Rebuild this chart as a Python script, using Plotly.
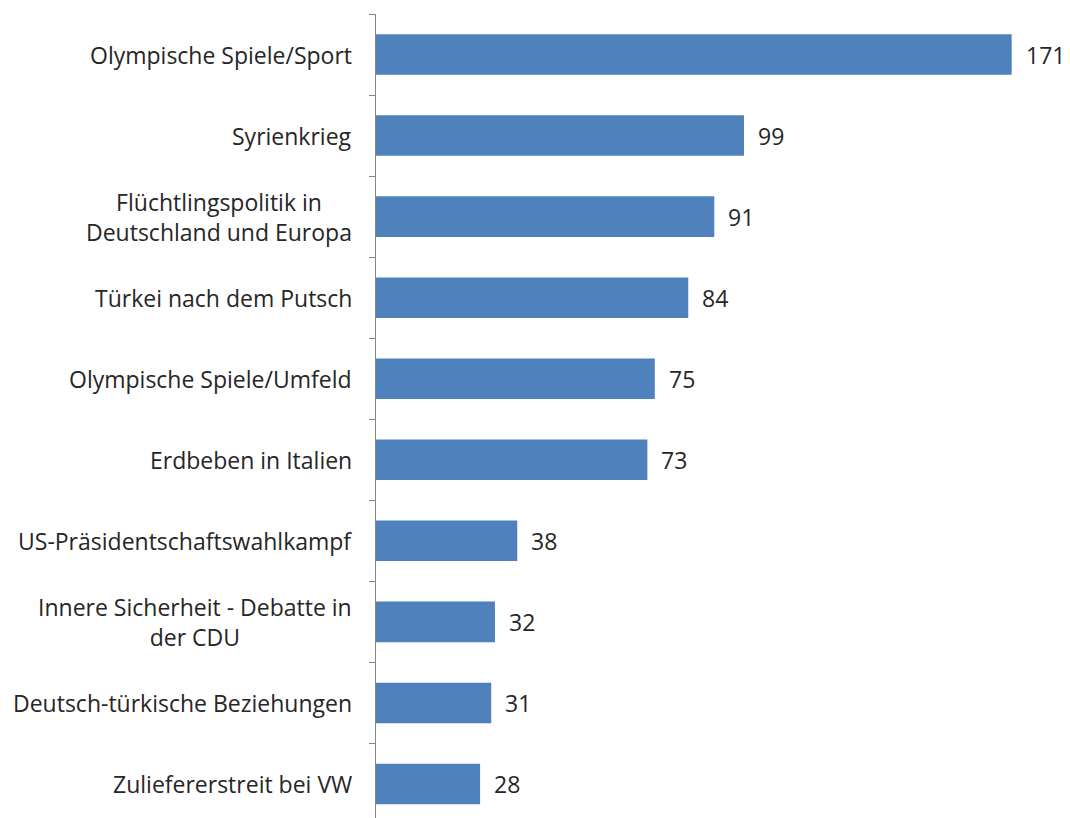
import plotly.graph_objects as go

categories = [
    "Olympische Spiele/Sport",
    "Syrienkrieg",
    "Flüchtlingspolitik in<br>Deutschland und Europa",
    "Türkei nach dem Putsch",
    "Olympische Spiele/Umfeld",
    "Erdbeben in Italien",
    "US-Präsidentschaftswahlkampf",
    "Innere Sicherheit - Debatte in<br>der CDU",
    "Deutsch-türkische Beziehungen",
    "Zuliefererstreit bei VW",
]
values = [171, 99, 91, 84, 75, 73, 38, 32, 31, 28]

FONT = "Open Sans"
TXT = "#262626"

fig = go.Figure()
fig.add_trace(go.Bar(
    x=values, y=list(range(len(categories))), orientation="h",
    marker=dict(color="#4F81BD", line=dict(width=0)),
    hoverinfo="skip",
))

annotations = []
for i, (c, v) in enumerate(zip(categories, values)):
    annotations.append(dict(
        x=0, xref="x", y=i, yref="y", text=c, showarrow=False,
        xanchor="right", yanchor="middle", align="center", xshift=-22,
        font=dict(family=FONT, size=23, color=TXT),
    ))
    annotations.append(dict(
        x=v, xref="x", y=i, yref="y", text=str(v), showarrow=False,
        xanchor="left", yanchor="middle", xshift=12,
        font=dict(family=FONT, size=23, color=TXT),
    ))

fig.update_layout(
    width=1070, height=818,
    margin=dict(l=376, r=10, t=14, b=0),
    plot_bgcolor="white", paper_bgcolor="white",
    bargap=0.5,
    showlegend=False,
    annotations=annotations,
    xaxis=dict(range=[0, 184], visible=False, showgrid=False, zeroline=False),
    yaxis=dict(
        tickmode="array",
        tickvals=[i - 0.5 for i in range(len(categories))], ticktext=[""] * len(categories),
        ticks="outside", ticklen=6, tickcolor="#868686", tickwidth=1,
        showline=True, linecolor="#868686", linewidth=1,
        showgrid=False, zeroline=False, showticklabels=False,
        autorange=False, range=[9.42, -0.5],
    ),
)
fig.write_html(
    "out.html",
    config={"displayModeBar": False},
    post_script="document.body.style.margin='0';document.body.style.overflow='hidden';",
)
